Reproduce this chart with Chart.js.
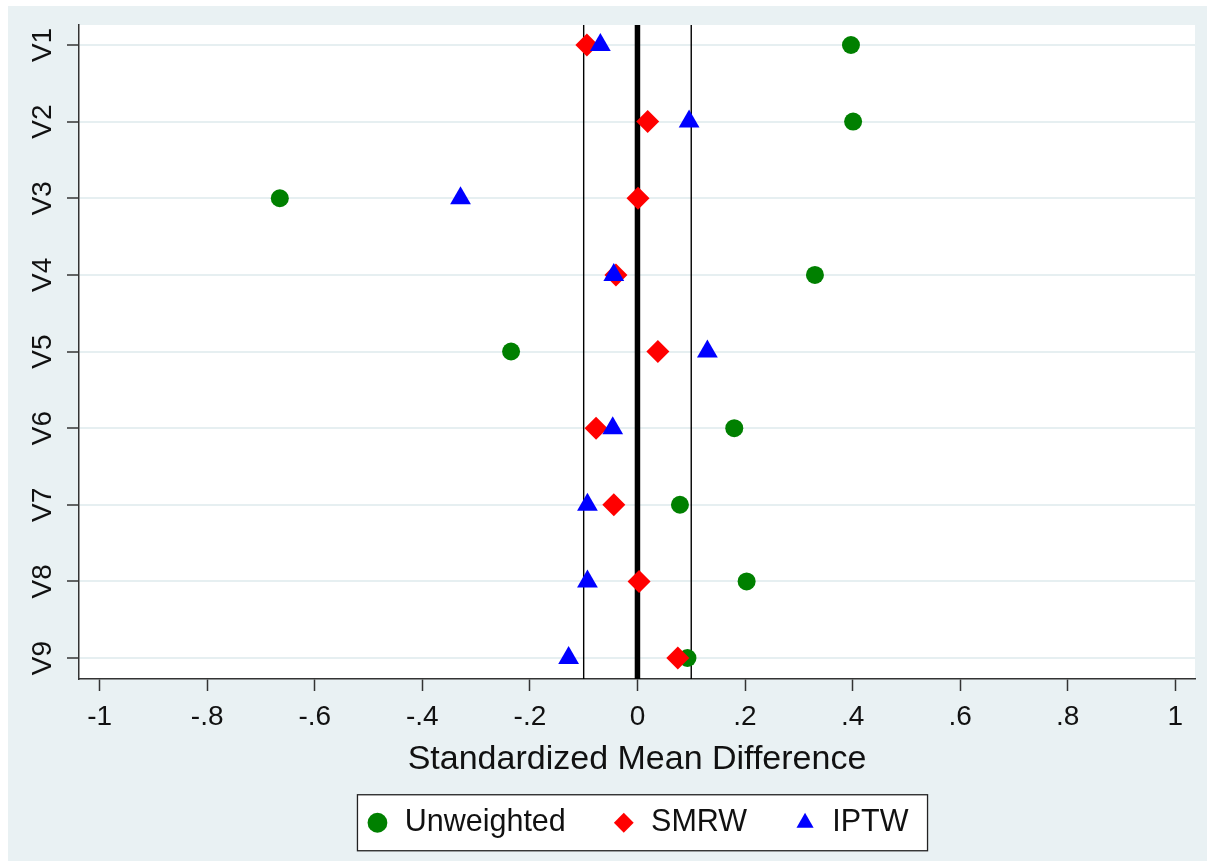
<!DOCTYPE html>
<html>
<head>
<meta charset="utf-8">
<script src="https://cdn.jsdelivr.net/npm/chart.js@4.4.1/dist/chart.umd.min.js"></script>
<style>
  html, body { margin: 0; padding: 0; background: #ffffff; }
  canvas { display: block; }
</style>
</head>
<body>
<canvas id="c" width="1207" height="861"></canvas>
<script>
// ---- data ----
const categories = ['V1', 'V2', 'V3', 'V4', 'V5', 'V6', 'V7', 'V8', 'V9'];
const unweighted = [0.397, 0.401, -0.665, 0.330, -0.235, 0.180, 0.079, 0.203, 0.093];
const smrw       = [-0.094, 0.019, 0.001, -0.040, 0.038, -0.077, -0.044, 0.003, 0.075];
const iptw       = [-0.069, 0.096, -0.329, -0.044, 0.130, -0.046, -0.093, -0.093, -0.128];
const refLines   = [-0.1, 0, 0.1];
const xTickValues = [-1, -0.8, -0.6, -0.4, -0.2, 0, 0.2, 0.4, 0.6, 0.8, 1];
const xTickLabels = ['-1', '-.8', '-.6', '-.4', '-.2', '0', '.2', '.4', '.6', '.8', '1'];
const seriesNames = ['Unweighted', 'SMRW', 'IPTW'];
const xTitle = 'Standardized Mean Difference';

// ---- layout constants ----
const Y_MIN = 0.739, Y_MAX = 9.274;
const X_MIN = -1.0384, X_MAX = 1.0367;
const PAD_LEFT = 10;
const FONT = "'Liberation Sans', Arial, Helvetica, sans-serif";
Chart.defaults.font.family = FONT;
Chart.defaults.color = '#111111';

const toPts = vals => vals.map((v, i) => ({ x: v, y: i + 1 }));

const pointDs = (label, vals, color, style, radius, order) => ({
  type: 'scatter',
  label,
  data: toPts(vals),
  backgroundColor: color,
  borderColor: color,
  pointBackgroundColor: color,
  pointBorderColor: color,
  pointStyle: style,
  pointRadius: radius,
  pointHoverRadius: radius,
  borderWidth: 0,
  pointBorderWidth: 0,
  order
});

const refDs = refLines.map(v => ({
  type: 'line',
  label: 'ref' + v,
  data: [{ x: v, y: Y_MIN }, { x: v, y: Y_MAX }],
  borderColor: '#000000',
  backgroundColor: '#000000',
  borderWidth: v === 0 ? 5.5 : 1.4,
  pointRadius: 0,
  showLine: true,
  fill: false,
  order: 10
}));

const bgPlugin = {
  id: 'bgPlugin',
  beforeDraw(chart) {
    const ctx = chart.ctx;
    const { chartArea } = chart;
    ctx.save();
    ctx.fillStyle = '#ffffff';
    ctx.fillRect(0, 0, chart.width, chart.height);
    ctx.fillStyle = '#E9F1F3';
    ctx.fillRect(8, 6, chart.width - 8, chart.height - 6);
    ctx.fillStyle = '#ffffff';
    ctx.fillRect(chartArea.left, chartArea.top, chartArea.right - chartArea.left, chartArea.bottom - chartArea.top);
    // legend frame
    const lg = chart.legend;
    if (lg && lg.legendHitBoxes && lg.legendHitBoxes.length) {
      const hb = lg.legendHitBoxes;
      const first = hb[0], last = hb[hb.length - 1];
      const left = first.left - 8;
      const right = last.left + last.width + 19;
      const cy = first.top + first.height / 2;
      ctx.fillStyle = '#ffffff';
      ctx.fillRect(left, cy - 28, right - left, 56);
      ctx.strokeStyle = '#222222';
      ctx.lineWidth = 1.3;
      ctx.strokeRect(left, cy - 28, right - left, 56);
    }
    ctx.restore();
  }
};

new Chart(document.getElementById('c'), {
  type: 'scatter',
  data: {
    datasets: [
      pointDs(seriesNames[0], unweighted, '#008000', 'circle', 9, 3),
      pointDs(seriesNames[1], smrw, '#FF0000', 'rectRot', 11.5, 2),
      pointDs(seriesNames[2], iptw, '#0000FF', 'triangle', 12, 1),
      ...refDs
    ]
  },
  options: {
    responsive: false,
    animation: false,
    events: [],
    layout: { padding: { left: PAD_LEFT, right: 8.5, top: 25, bottom: 13 } },
    plugins: {
      tooltip: { enabled: false },
      legend: {
        position: 'bottom',
        fullSize: false,
        labels: {
          usePointStyle: true,
          boxWidth: 24,
          boxHeight: 14,
          padding: 46,
          color: '#111111',
          font: { size: 30.5, family: FONT },
          filter: item => item.datasetIndex < 3,
          sort: (a, b) => a.datasetIndex - b.datasetIndex
        }
      }
    },
    scales: {
      x: {
        type: 'linear',
        position: 'bottom',
        min: X_MIN,
        max: X_MAX,
        afterBuildTicks: s => { s.ticks = xTickValues.map(v => ({ value: v })); },
        afterFit: s => { s.height = 82.5; },
        ticks: {
          callback: (v) => { const i = xTickValues.findIndex(t => Math.abs(t - v) < 1e-9); return i >= 0 ? xTickLabels[i] : ''; },
          font: { size: 28, family: FONT },
          color: '#111111',
          padding: 9,
          maxRotation: 0,
          minRotation: 0,
          autoSkip: false
        },
        grid: {
          drawOnChartArea: false,
          drawTicks: true,
          tickLength: 12,
          tickColor: '#333333',
          tickWidth: 1.5
        },
        border: { display: true, color: '#333333', width: 1.5 },
        title: {
          display: true,
          text: xTitle,
          color: '#111111',
          font: { size: 34, family: FONT },
          padding: { top: 0, bottom: -18.4 }
        }
      },
      y: {
        type: 'linear',
        position: 'left',
        reverse: true,
        min: Y_MIN,
        max: Y_MAX,
        afterBuildTicks: s => { s.ticks = categories.map((c, i) => ({ value: i + 1 })); },
        afterFit: s => { s.width = 79 - PAD_LEFT; },
        ticks: {
          callback: (v) => categories[Math.round(v) - 1] || '',
          font: { size: 28, family: FONT },
          color: '#111111',
          padding: 7,
          minRotation: 90,
          maxRotation: 90,
          crossAlign: 'center',
          autoSkip: false
        },
        grid: {
          color: '#E6EFF1',
          lineWidth: 2,
          drawTicks: true,
          tickLength: 12,
          tickColor: '#333333',
          tickWidth: 1.5
        },
        border: { display: true, color: '#333333', width: 1.5 }
      }
    }
  },
  plugins: [bgPlugin]
});
</script>
</body>
</html>
